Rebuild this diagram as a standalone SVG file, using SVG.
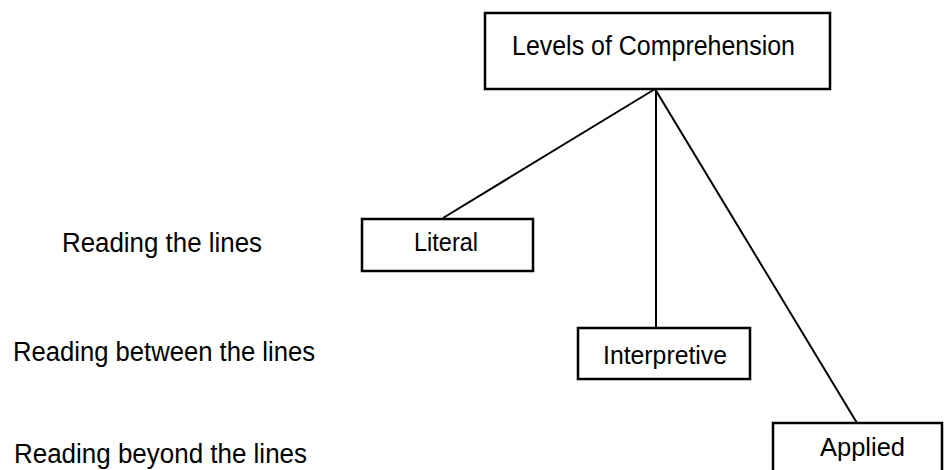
<svg xmlns="http://www.w3.org/2000/svg" width="945" height="470" viewBox="0 0 945 470">
<style>
.box{fill:#fff;stroke:#000;stroke-width:2.5}
.t{font-family:"Liberation Sans",Arial,sans-serif;font-size:26px;fill:#000}
.l{font-size:27px}
.conn line{stroke:#000;stroke-width:2}
</style>
<rect width="945" height="470" fill="#fff"/>
<g class="conn" id="connectors">
<line x1="655" y1="89" x2="443" y2="218"/>
<line x1="656" y1="89" x2="656" y2="327"/>
<line x1="655" y1="89" x2="857" y2="423"/>
</g>
<g id="levels">
<rect class="box" x="485" y="13" width="345" height="76"/>
<text class="t l" x="512" y="55" textLength="283" lengthAdjust="spacingAndGlyphs">Levels of Comprehension</text>
</g>
<g id="literal">
<rect class="box" x="362" y="219" width="171" height="52"/>
<text class="t" x="414" y="251" textLength="64" lengthAdjust="spacingAndGlyphs">Literal</text>
</g>
<g id="interpretive">
<rect class="box" x="578" y="328" width="172" height="51"/>
<text class="t" x="603" y="364" textLength="124" lengthAdjust="spacingAndGlyphs">Interpretive</text>
</g>
<g id="applied">
<rect class="box" x="773" y="423" width="169" height="52"/>
<text class="t" x="820" y="456" textLength="85" lengthAdjust="spacingAndGlyphs">Applied</text>
</g>
<g id="labels">
<text class="t l" x="62" y="252" textLength="200" lengthAdjust="spacingAndGlyphs">Reading the lines</text>
<text class="t l" x="13" y="361" textLength="302" lengthAdjust="spacingAndGlyphs">Reading between the lines</text>
<text class="t l" x="14" y="463" textLength="293" lengthAdjust="spacingAndGlyphs">Reading beyond the lines</text>
</g>
</svg>
